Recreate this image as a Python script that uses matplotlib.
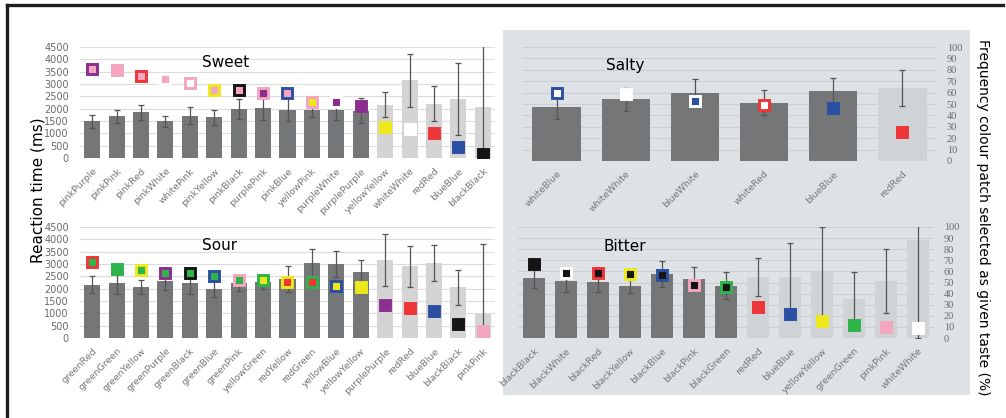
import re
import numpy as np
import matplotlib
matplotlib.use("Agg")
import matplotlib.pyplot as plt
from matplotlib.patches import Rectangle
from matplotlib.lines import Line2D

plt.rcParams['font.family'] = 'DejaVu Sans'

# colour names used in the condition labels
colours = {
    'pink': '#f4a6c1', 'purple': '#8b2f8f', 'red': '#ee3537',
    'yellow': '#ece81a', 'blue': '#2b4fa3', 'green': '#2fb34b',
    'white': '#ffffff', 'black': '#151515',
}

# Sweet: reaction time (ms) +/- error, frequency selected (%)
sweet_labels = ['pinkPurple', 'pinkPink', 'pinkRed', 'pinkWhite', 'whitePink', 'pinkYellow',
                'pinkBlack', 'purplePink', 'pinkBlue', 'yellowPink', 'purpleWhite', 'purplePurple',
                'yellowYellow', 'whiteWhite', 'redRed', 'blueBlue', 'blackBlack']
sweet_rt = [1490, 1690, 1850, 1490, 1716, 1650, 1986, 2027, 1960, 1960, 1960, 1920,
            2160, 3150, 2200, 2400, 2070]
sweet_err = [270, 270, 310, 230, 335, 310, 400, 470, 470, 300, 400, 500,
             515, 1080, 700, 1470, 2500]
sweet_freq = [80, 79, 73.6, 71, 67.6, 61, 61, 59, 58.6, 50.5, 50.5, 47,
              28, 26.4, 22.5, 10, 4]
sweet_light = 5

# Sour
sour_labels = ['greenRed', 'greenGreen', 'greenYellow', 'greenPurple', 'greenBlack', 'greenBlue',
               'greenPink', 'yellowGreen', 'redYellow', 'redGreen', 'yellowBlue', 'yellowYellow',
               'purplePurple', 'redRed', 'blueBlue', 'blackBlack', 'pinkPink']
sour_rt = [2160, 2230, 2070, 2300, 2230, 1990, 2230, 2270, 2390, 3040, 3010, 2660,
           3175, 2900, 3040, 2050, 990]
sour_err = [340, 430, 270, 370, 430, 330, 340, 280, 520, 580, 530, 515,
            1050, 850, 740, 720, 2830]
sour_freq = [68.5, 62, 61.6, 59, 59, 56, 52.5, 52.5, 50.5, 50.5, 46.5, 46,
             29.4, 27, 24.6, 12.6, 6]
sour_light = 5

# Salty (values on the % scale)
salty_labels = ['whiteBlue', 'whiteWhite', 'blueWhite', 'whiteRed', 'blueBlue', 'redRed']
salty_bar = [47.4, 54, 60, 51, 61.4, 64.3]
salty_err = [10.5, 10, 11.6, 11, 11.4, 15.8]
salty_freq = [59.6, 59, 52.3, 48.8, 46.5, 25.4]
salty_light = 1

# Bitter (values on the % scale)
bitter_labels = ['blackBlack', 'blackWhite', 'blackRed', 'blackYellow', 'blackBlue', 'blackPink',
                 'blackGreen', 'redRed', 'blueBlue', 'yellowYellow', 'greenGreen', 'pinkPink',
                 'whiteWhite']
bitter_bar = [53.7, 51.6, 50.1, 47.2, 57.6, 52.8, 46.9, 55.2, 55.2, 59.7, 35.2, 51.3, 88]
bitter_err = [9, 10.4, 8.4, 7, 12, 10.8, 12.2, 17.3, 30.8, 40.3, 23.9, 28.7, 88]
bitter_freq = [67, 59, 59, 58, 56.7, 47.8, 46.3, 27.5, 21.5, 15, 11.3, 9.6, 9]
bitter_light = 6

DARK = '#747678'
PANEL_BG = '#dfe2e5'
TICK_C = '#6a6a6a'


def split_pair(label):
    parts = re.findall(r'[a-z]+|[A-Z][a-z]+', label)
    return colours[parts[0].lower()], colours[parts[1].lower()]


def draw_markers(ax, x, freq, labels):
    for xi, f, lab in zip(x, freq, labels):
        face, edge = split_pair(lab)
        ax.plot(xi, f, marker='s', ms=7.5, mfc=face, mec=edge, mew=2.1,
                ls='none', zorder=5)


def style_axes(ax, labels):
    ax.set_xlim(-0.5, len(labels) - 0.5)
    ax.set_xticks(np.arange(len(labels)))
    ax.set_xticklabels(labels, rotation=45, ha='right', rotation_mode='anchor',
                       fontsize=6.8, color='#777777')
    ax.tick_params(axis='x', length=0, pad=6)
    for s in ax.spines.values():
        s.set_visible(False)
    ax.set_facecolor('none')
    ax.set_axisbelow(True)


def bar_colours(n, n_light, light_c):
    return [DARK] * (n - n_light) + [light_c] * n_light


fig = plt.figure(figsize=(10.06, 4.18), dpi=100)
W, H = 1006, 418

# shaded block behind the right-hand panels
fig.patches.append(Rectangle((503 / W, 1 - 395 / H), 467 / W, 365 / H,
                             transform=fig.transFigure, facecolor=PANEL_BG,
                             edgecolor='none', zorder=-10))
# frame lines
fig.lines.append(Line2D([7 / W, 7 / W], [0, 1 - 5 / H], transform=fig.transFigure,
                        color='#1e1e1e', lw=2.4))
fig.lines.append(Line2D([7 / W, 1003 / W], [1 - 5 / H, 1 - 5 / H], transform=fig.transFigure,
                        color='#1e1e1e', lw=2.4))


def left_panel(rect, labels, rt, err, freq, n_light, title, tpos):
    ax = fig.add_axes(rect)
    x = np.arange(len(labels))
    ax.bar(x, rt, width=0.66, color=bar_colours(len(labels), n_light, '#d4d4d4'), zorder=2)
    ax.errorbar(x, rt, yerr=err, fmt='none', ecolor='#555555', elinewidth=0.9,
                capsize=2.2, capthick=0.9, zorder=3)
    ax.set_ylim(0, 4500)
    ax.set_yticks(np.arange(0, 4501, 500))
    ax.tick_params(axis='y', length=0, pad=8, labelsize=7, labelcolor=TICK_C)
    style_axes(ax, labels)
    ax.yaxis.grid(True, color='#dcdcdc', lw=0.8)
    ax.text(tpos[0], tpos[1], title, transform=ax.transAxes, fontsize=11,
            ha='center', va='center')
    ax2 = ax.twinx()
    ax2.set_ylim(0, 100)
    ax2.set_yticks([])
    for s in ax2.spines.values():
        s.set_visible(False)
    draw_markers(ax2, x, freq, labels)
    return ax


def right_panel(rect, labels, bar, err, freq, n_light, title, tpos):
    ax = fig.add_axes(rect)
    x = np.arange(len(labels))
    ax.bar(x, bar, width=0.7, color=bar_colours(len(labels), n_light, '#d0d3d6'), zorder=2)
    ax.errorbar(x, bar, yerr=err, fmt='none', ecolor='#555555', elinewidth=0.9,
                capsize=2.2, capthick=0.9, zorder=3)
    draw_markers(ax, x, freq, labels)
    ax.set_ylim(0, 100)
    ax.set_yticks(np.arange(0, 101, 10))
    ax.yaxis.tick_right()
    ax.tick_params(axis='y', length=0, pad=7, labelsize=7.5, labelcolor=TICK_C)
    for t in ax.get_yticklabels():
        t.set_family('Liberation Serif')
    style_axes(ax, labels)
    ax.yaxis.grid(True, color='#cbcfd3', lw=0.8)
    ax.text(tpos[0], tpos[1], title, transform=ax.transAxes, fontsize=11,
            ha='center', va='center')
    return ax


left_panel([80 / W, 1 - 158 / H, 415 / W, 111 / H], sweet_labels, sweet_rt, sweet_err,
           sweet_freq, sweet_light, 'Sweet', (0.35, 0.86))
left_panel([80 / W, 1 - 338 / H, 415 / W, 111 / H], sour_labels, sour_rt, sour_err,
           sour_freq, sour_light, 'Sour', (0.337, 0.83))
right_panel([522 / W, 1 - 161 / H, 415 / W, 114 / H], salty_labels, salty_bar, salty_err,
            salty_freq, salty_light, 'Salty', (0.248, 0.84))
right_panel([518 / W, 1 - 338 / H, 416 / W, 111 / H], bitter_labels, bitter_bar, bitter_err,
            bitter_freq, bitter_light, 'Bitter', (0.257, 0.82))

fig.text(38 / W, 1 - 190 / H, 'Reaction time (ms)', rotation=90, fontsize=11,
         ha='center', va='center')
fig.text(983 / W, 1 - 217 / H, 'Frequency colour patch selected as given taste (%)',
         rotation=270, fontsize=10, ha='center', va='center')

fig.savefig('out.png', dpi=100)
